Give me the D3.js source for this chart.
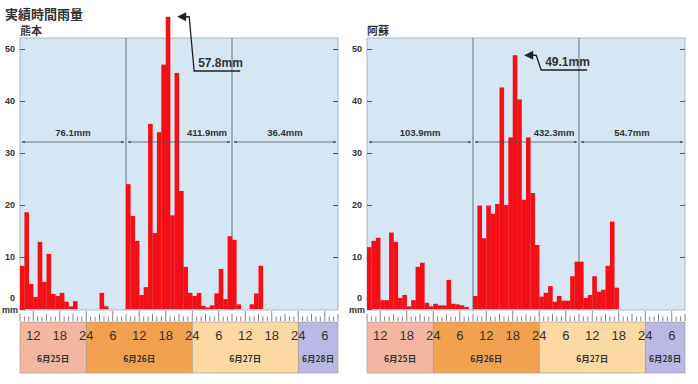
<!DOCTYPE html>
<html>
<head>
<meta charset="utf-8">
<title>実績時間雨量</title>
<script src="https://cdn.jsdelivr.net/npm/d3@7"></script>
<style>
  body { margin: 0; background: #fff; }
  svg text { font-family: 'Liberation Sans', Arial, sans-serif; fill: #333; }
  .jp { font-family: 'Noto Sans CJK JP', sans-serif; font-weight: bold; }
  .axis text { font-size: 9px; font-weight: bold; }
</style>
</head>
<body>
<script>
// hourly rainfall (mm), one value per hour from 6/25 9:00 to 6/28 9:00
const kumamoto = [
  8.3, 18.6, 4.8, 2.3, 12.9, 5.2, 10.6, 2.9, 2.5, 3.1, 1.4, 0.5,
  1.5, 0, 0, 0, 0, 0, 3.1, 0.5, 0, 0, 0, 0,
  24.0, 17.9, 13.1, 2.7, 4.2, 35.6, 14.6, 34.0, 47.0, 56.2, 18.0, 45.4,
  22.7, 8.1, 3.1, 2.5, 3.1, 0.6, 0.3, 0.7, 3.0, 7.7, 1.9, 14.0,
  13.3, 0.9, 0, 0, 0.9, 3.0, 8.3, 0, 0, 0, 0, 0,
  0, 0, 0, 0, 0, 0, 0, 0, 0, 0, 0, 0
];
const aso = [
  11.9, 13.1, 13.7, 1.7, 1.7, 14.7, 12.9, 2.1, 2.7, 0.5, 1.7, 8.1,
  8.9, 1.2, 0.5, 1.0, 0.7, 0.7, 5.6, 1.0, 0.9, 0.7, 0.4, 0,
  2.5, 19.9, 13.6, 19.9, 18.3, 20.2, 42.6, 20.0, 33.0, 48.8, 40.3, 21.0,
  33.0, 22.3, 12.3, 2.4, 3.1, 4.4, 1.4, 2.5, 1.6, 1.6, 6.3, 9.1,
  9.1, 2.1, 2.7, 6.3, 3.3, 3.7, 8.3, 16.8, 4.1, 0, 0, 0,
  0, 0, 0, 0, 0, 0, 0, 0, 0, 0, 0, 0
];
const stations = ["熊本", "阿蘇"];
const kumamotoTotals = ["76.1mm", "411.9mm", "36.4mm"];
const asoTotals = ["103.9mm", "432.3mm", "54.7mm"];
const maxLabels = ["57.8mm", "49.1mm"];
const yTicks = [0, 10, 20, 30, 40, 50];
const hourTicks = [3, 9, 15, 21, 27, 33, 39, 45, 51, 57, 63, 69];
const hourLabels = ["12", "18", "24", "6", "12", "18", "24", "6", "12", "18", "24", "6"];
const days = ["6月25日", "6月26日", "6月27日", "6月28日"];
const dayStart = [0, 15, 39, 63];
const dayEnd = [15, 39, 63, 72];
const dayColors = ["#f3b7a1", "#f2a150", "#fcd8a3", "#b9b9e4"];

const W = 698, H = 384;
const svg = d3.select("body").append("svg")
  .attr("width", W).attr("height", H);

svg.append("text").attr("class", "jp")
  .attr("x", 5).attr("y", 19).style("font-size", "13px")
  .text("実績時間雨量");

const plotTop = 38, plotBottom = 310, plotW = 318;
const y = d3.scaleLinear().domain([0, 50]).range([309, 49]);

function panel(x0, values, name, totals, maxLabel, underY) {
  const x = d3.scaleLinear().domain([0, 72]).range([x0, x0 + plotW]);
  const g = svg.append("g");

  g.append("text").attr("class", "jp")
    .attr("x", x0).attr("y", 35).style("font-size", "11px")
    .text(name);

  g.append("rect")
    .attr("x", x0).attr("y", plotTop)
    .attr("width", plotW).attr("height", plotBottom - plotTop)
    .attr("fill", "#d6e6f2").attr("stroke", "#9aaab8").attr("stroke-width", 0.8);

  // y axis, ticks on both sides
  const ya = g.append("g").attr("class", "axis")
    .attr("transform", `translate(${x0},0)`)
    .call(d3.axisLeft(y).tickValues(yTicks).tickSize(-5).tickPadding(5));
  ya.select(".domain").remove();
  ya.selectAll("line").attr("stroke", "#555");
  ya.selectAll(".tick").filter(d => d === 0).select("text").attr("dy", "-0.9em");
  const yr = g.append("g").attr("transform", `translate(${x0 + plotW},0)`)
    .call(d3.axisRight(y).tickValues(yTicks.slice(1)).tickSize(-5).tickFormat(""));
  yr.select(".domain").remove();
  yr.selectAll("line").attr("stroke", "#555");
  g.append("text").attr("x", x0 - 2).attr("y", 313)
    .attr("text-anchor", "end").style("font-size", "9px").style("font-weight", "bold")
    .text("mm");

  // day boundaries (9:00)
  g.selectAll(".vline").data([24, 48]).join("line")
    .attr("x1", d => x(d)).attr("x2", d => x(d))
    .attr("y1", plotTop).attr("y2", plotBottom)
    .attr("stroke", "#5f7488").attr("stroke-width", 1);

  // bars
  g.selectAll(".bar").data(values).join("rect")
    .attr("x", (d, i) => x(i)).attr("width", x(1) - x(0) + 0.2)
    .attr("y", d => y(d)).attr("height", d => y(0) - y(d))
    .attr("fill", "#f40f16");

  // daily totals
  const secs = [0, 24, 48];
  g.selectAll(".dim").data(secs).join("line")
    .attr("x1", d => x(d) + 2).attr("x2", d => x(d + 24) - 2)
    .attr("y1", 142).attr("y2", 142)
    .attr("stroke", "#4a5560").attr("stroke-width", 0.8)
    .attr("marker-start", "url(#arr)").attr("marker-end", "url(#arr)");
  g.selectAll(".tot").data(totals).join("text")
    .attr("x", (d, i) => x(secs[i] + 12) + (i === 1 ? 28 : 0))
    .attr("y", 136).attr("text-anchor", "middle")
    .style("font-size", "9.5px").style("font-weight", "bold")
    .text(d => d);

  // max annotation
  const mi = d3.maxIndex(values);
  const tipX = x(mi + 1) + 7, tipY = y(values[mi]);
  const cx = tipX + 12;
  g.append("path")
    .attr("d", `M${tipX + 6},${tipY} L${cx},${tipY} L${cx + 5},${underY} L${cx + 51},${underY}`)
    .attr("fill", "none").attr("stroke", "#222").attr("stroke-width", 1.3);
  g.append("path")
    .attr("d", `M${tipX},${tipY} l9,-4.5 l0,9 z`).attr("fill", "#222");
  g.append("text").attr("x", cx + 9).attr("y", underY - 4)
    .style("font-size", "12px").style("font-weight", "bold")
    .text(maxLabel);

  // ruler ticks
  g.selectAll(".rt").data(d3.range(0, 73)).join("line")
    .attr("x1", d => x(d)).attr("x2", d => x(d))
    .attr("y1", d => (d - 3) % 6 === 0 ? 311 : (d % 3 === 0 ? 314 : 316.5))
    .attr("y2", 321)
    .attr("stroke", "#666").attr("stroke-width", 0.8);

  // date strip
  g.selectAll(".day").data(days).join("rect")
    .attr("x", (d, i) => x(dayStart[i])).attr("y", 322)
    .attr("width", (d, i) => x(dayEnd[i]) - x(dayStart[i])).attr("height", 51)
    .attr("fill", (d, i) => dayColors[i])
    .attr("stroke", "#a09890").attr("stroke-width", 0.6);
  g.selectAll(".hl").data(hourLabels).join("text")
    .attr("x", (d, i) => x(hourTicks[i])).attr("y", 340)
    .attr("text-anchor", "middle").style("font-size", "13px")
    .text(d => d);
  g.selectAll(".dl").data(days).join("text").attr("class", "jp")
    .attr("x", (d, i) => (x(dayStart[i]) + x(dayEnd[i])) / 2).attr("y", 362)
    .attr("text-anchor", "middle").style("font-size", "8.5px")
    .text(d => d);
}

const defs = svg.append("defs");
defs.append("marker").attr("id", "arr")
  .attr("viewBox", "0 0 10 10").attr("refX", 9).attr("refY", 5)
  .attr("markerWidth", 4).attr("markerHeight", 4).attr("orient", "auto-start-reverse")
  .append("path").attr("d", "M0,1 L10,5 L0,9 z").attr("fill", "#4a5560");

panel(20, kumamoto, stations[0], kumamotoTotals, maxLabels[0], 71);
panel(367, aso, stations[1], asoTotals, maxLabels[1], 70);
</script>
</body>
</html>
